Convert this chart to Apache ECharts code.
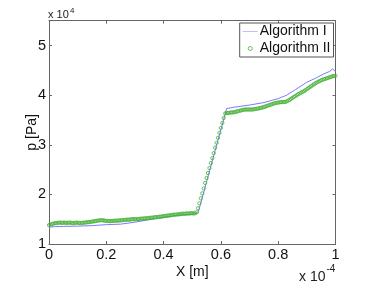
<!DOCTYPE html>
<html><head><meta charset="utf-8">
<script src="https://cdn.jsdelivr.net/npm/echarts@6/dist/echarts.min.js"></script>
<style>html,body{margin:0;padding:0;background:#fff}#c{width:371px;height:284px}</style>
</head><body><div id="c"></div>
<script>
// X in units of 1e-4 m, p in units of 1e4 Pa
const seriesNames = ['Algorithm I', 'Algorithm II'];

const xAlgI = [0,0.02,0.05,0.1,0.15,0.2,0.25,0.3,0.35,0.4,0.45,0.5,0.52,0.525,0.62,0.65,0.7,0.75,0.8,0.83,0.86,0.9,0.93,0.96,0.98,0.99,0.995,1.0];
const pAlgI = [1.34,1.35,1.355,1.36,1.37,1.39,1.40,1.44,1.49,1.54,1.58,1.60,1.62,1.64,3.73,3.76,3.80,3.85,3.93,4.00,4.11,4.26,4.34,4.43,4.48,4.53,4.57,4.47];

const xAlgII = [
0,0.005,0.01,0.015,0.02,0.025,0.03,0.035,0.04,0.045,0.05,0.055,0.06,0.065,0.07,0.075,0.08,0.085,0.09,0.095,
0.1,0.105,0.11,0.115,0.12,0.125,0.13,0.135,0.14,0.145,0.15,0.155,0.16,0.165,0.17,0.175,0.18,0.185,0.19,0.195,
0.2,0.205,0.21,0.215,0.22,0.225,0.23,0.235,0.24,0.245,0.25,0.255,0.26,0.265,0.27,0.275,0.28,0.285,0.29,0.295,
0.3,0.305,0.31,0.315,0.32,0.325,0.33,0.335,0.34,0.345,0.35,0.355,0.36,0.365,0.37,0.375,0.38,0.385,0.39,0.395,
0.4,0.405,0.41,0.415,0.42,0.425,0.43,0.435,0.44,0.445,0.45,0.455,0.46,0.465,0.47,0.475,0.48,0.485,0.49,0.495,
0.5,0.505,0.51,0.515,0.52,0.525,0.53,0.535,0.54,0.545,0.55,0.555,0.56,0.565,0.57,0.575,0.58,0.585,0.59,0.595,
0.6,0.605,0.61,0.615,0.62,0.625,0.63,0.635,0.64,0.645,0.65,0.655,0.66,0.665,0.67,0.675,0.68,0.685,0.69,0.695,
0.7,0.705,0.71,0.715,0.72,0.725,0.73,0.735,0.74,0.745,0.75,0.755,0.76,0.765,0.77,0.775,0.78,0.785,0.79,0.795,
0.8,0.805,0.81,0.815,0.82,0.825,0.83,0.835,0.84,0.845,0.85,0.855,0.86,0.865,0.87,0.875,0.88,0.885,0.89,0.895,
0.9,0.905,0.91,0.915,0.92,0.925,0.93,0.935,0.94,0.945,0.95,0.955,0.96,0.965,0.97,0.975,0.98,0.985,0.99,0.995,
1.0];
const pAlgII = [
1.38,1.39,1.40,1.41,1.42,1.42,1.425,1.43,1.43,1.425,1.43,1.43,1.425,1.425,1.43,1.43,1.425,1.42,1.425,1.43,
1.43,1.425,1.42,1.425,1.43,1.43,1.435,1.44,1.44,1.445,1.45,1.455,1.46,1.465,1.47,1.475,1.48,1.48,1.475,1.47,
1.465,1.465,1.46,1.46,1.465,1.465,1.47,1.47,1.47,1.475,1.475,1.48,1.48,1.485,1.49,1.49,1.49,1.495,1.50,1.50,
1.50,1.50,1.505,1.505,1.51,1.51,1.515,1.515,1.52,1.52,1.525,1.53,1.53,1.535,1.54,1.54,1.545,1.55,1.55,1.555,
1.56,1.565,1.57,1.57,1.575,1.58,1.585,1.59,1.59,1.595,1.595,1.60,1.605,1.61,1.61,1.61,1.615,1.615,1.615,1.62,
1.62,1.615,1.62,1.64,1.72,1.82,1.92,2.02,2.12,2.23,2.33,2.43,2.53,2.63,2.73,2.83,2.94,3.04,3.14,3.24,
3.34,3.44,3.54,3.63,3.64,3.64,3.645,3.65,3.65,3.655,3.66,3.67,3.675,3.685,3.69,3.70,3.705,3.71,3.71,3.71,
3.71,3.71,3.71,3.715,3.72,3.725,3.73,3.735,3.745,3.75,3.76,3.77,3.78,3.79,3.80,3.81,3.82,3.83,3.84,3.845,
3.85,3.855,3.86,3.86,3.86,3.865,3.875,3.89,3.905,3.925,3.945,3.965,3.98,4.00,4.02,4.035,4.05,4.065,4.08,4.10,
4.12,4.14,4.16,4.18,4.20,4.22,4.24,4.255,4.27,4.285,4.30,4.31,4.32,4.33,4.34,4.35,4.36,4.37,4.38,4.385,
4.39];

const xRange = [0, 1], xStep = 0.2;
const yRange = [1, 5.5], yStep = 1;
const xAxisName = 'X [m]', yAxisName = 'p [Pa]';
const xExp = '-4', yExp = '4';

const FONT = 'Liberation Sans, Arial, Helvetica, sans-serif';
const AX = '#666';
const BLUE = '#7a7aff';
const GREEN = '#45b035';

const zip = (xs, ys) => xs.map((x, i) => [x, ys[i]]);

const axisBase = (show) => ({
  type: 'value',
  axisLine: { show: true, onZero: false, lineStyle: { color: AX, width: 1 } },
  axisTick: { show: true, inside: true, length: 3, lineStyle: { color: AX } },
  splitLine: { show: false },
  axisLabel: { show: show, color: '#111', fontSize: 14.5, fontFamily: FONT, showMaxLabel: false }
});

const chart = echarts.init(document.getElementById('c'), null, { renderer: 'canvas' });
chart.setOption({
  animation: false,
  backgroundColor: '#fff',
  grid: { left: 49, right: 35.5, top: 20.7, bottom: 36.7, containLabel: false },
  xAxis: [
    Object.assign(axisBase(true), { position: 'bottom', min: xRange[0], max: xRange[1], interval: xStep,
      name: xAxisName, nameLocation: 'middle', nameGap: 21, nameMoveOverlap: false,
      nameTextStyle: { color: '#111', fontSize: 14, fontFamily: FONT },
      axisLabel: { show: true, color: '#111', fontSize: 14.5, fontFamily: FONT, margin: 3 } }),
    Object.assign(axisBase(false), { position: 'top', min: xRange[0], max: xRange[1], interval: xStep })
  ],
  yAxis: [
    Object.assign(axisBase(true), { position: 'left', min: yRange[0], max: yRange[1], interval: yStep,
      name: yAxisName, nameLocation: 'middle', nameGap: 10, nameMoveOverlap: false,
      nameTextStyle: { color: '#111', fontSize: 14, fontFamily: FONT },
      axisLabel: { show: true, color: '#111', fontSize: 14.5, fontFamily: FONT, margin: 3, showMaxLabel: false } }),
    Object.assign(axisBase(false), { position: 'right', min: yRange[0], max: yRange[1], interval: yStep })
  ],
  legend: {
    right: 37.5, top: 23, orient: 'vertical',
    backgroundColor: '#fff', borderColor: '#555', borderWidth: 1, borderRadius: 0,
    padding: [1, 3, 1, 3], itemGap: 2, itemWidth: 15, itemHeight: 4,
    textStyle: { color: '#111', fontSize: 14, fontFamily: FONT, lineHeight: 15, padding: [0, 0, 0, -3] },
    data: [
      { name: seriesNames[0], icon: 'path://M0 0 L30 0 L30 1 L0 1 Z', itemStyle: { color: BLUE } },
      { name: seriesNames[1], icon: 'circle', itemStyle: { color: 'rgba(0,0,0,0)', borderColor: GREEN, borderWidth: 1 } }
    ]
  },
  graphic: [
    { type: 'text', left: 48, top: 9.5, style: { text: 'x 10', font: '11px ' + FONT, fill: '#222' } },
    { type: 'text', left: 70, top: 7, style: { text: yExp, font: '8px ' + FONT, fill: '#222' } },
    { type: 'text', left: 299, top: 270, style: { text: 'x 10', font: '14px ' + FONT, fill: '#222' } },
    { type: 'text', left: 326.5, top: 264.5, style: { text: xExp, font: '10px ' + FONT, fill: '#222' } }
  ],
  series: [
    { name: seriesNames[0], type: 'line', data: zip(xAlgI, pAlgI), showSymbol: false, symbol: 'none',
      lineStyle: { color: BLUE, width: 1 }, itemStyle: { color: BLUE }, z: 2 },
    { name: seriesNames[1], type: 'scatter', data: zip(xAlgII, pAlgII), symbol: 'circle', symbolSize: 3.3,
      itemStyle: { color: 'rgba(0,0,0,0)', borderColor: GREEN, borderWidth: 1 }, z: 3 }
  ]
});
</script>
</body></html>
